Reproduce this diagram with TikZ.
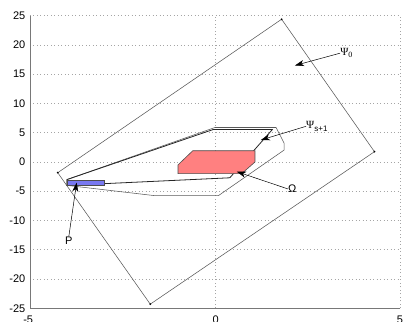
\documentclass[tikz,border=0pt]{standalone}
\usepackage{fontspec}
\setmainfont{Liberation Sans}
\newfontfamily\symfont{Liberation Serif}
\usetikzlibrary{arrows.meta}
\definecolor{omegared}{RGB}{255,128,128}
\definecolor{pblue}{RGB}{120,120,240}
\definecolor{gridgray}{RGB}{165,165,165}
\definecolor{axisgray}{RGB}{120,120,120}
\tikzset{
  gridline/.style={gridgray, line width=0.6pt, dash pattern=on 1pt off 2.5pt},
  axisline/.style={axisgray, line width=0.8pt},
  ticklabel/.style={font=\fontsize{11}{11}\selectfont, inner sep=0pt},
  polyline/.style={black!65, line width=0.55pt},
  innerpoly/.style={black!85, line width=0.8pt},
  annot/.style={black, line width=0.5pt, -{Stealth[length=9pt,width=6pt,inset=2.5pt]}},
  vertexdot/.style={fill=black, circle, inner sep=0pt, minimum size=2pt},
  lbl/.style={inner sep=0pt, font=\fontsize{11}{11}\selectfont}
}
\begin{document}
\begin{tikzpicture}[x=37pt,y=5.85pt]
\useasboundingbox (-5.8108,-27.350) rectangle (5.0811,27.692);
\clip (-5.8108,-27.350) rectangle (5.0811,27.692);
% grid
\foreach \yy in {-20,-15,...,25} \draw[gridline] (-5,\yy) -- (5,\yy);
\draw[gridline] (0,-25) -- (0,25);
\draw[gridline] (5,-25) -- (5,25);
% axes
\draw[axisline] (-5,25) -- (-5,-25) -- (5,-25);
\foreach \yy in {-25,-20,...,25} \node[ticklabel, anchor=east] (yt\yy) at (-5.12,\yy) {\yy};
\node[ticklabel, anchor=north] (xtm5) at (-5.05,-26.3) {-5};
\node[ticklabel, anchor=north] (xt0) at (0.02,-26.3) {0};
\node[ticklabel, anchor=north] (xt5) at (5,-26.3) {5};
% Psi_0
\coordinate (q1) at (1.80,24.4);
\coordinate (q2) at (4.31,1.76);
\coordinate (q3) at (-1.75,-24.3);
\coordinate (q4) at (-4.25,-1.83);
\draw[polyline] (q1) -- (q2) -- (q3) -- (q4) -- cycle;
\foreach \q in {q1,q2,q3,q4} \node[vertexdot] at (\q) {};
% Psi_{s+1} outer
\draw[polyline] (-4,-3) -- (0,5.9) -- (1.65,5.9) -- (1.87,3.2) -- (1.87,2.05) -- (0.09,-5.76) -- (-1.62,-5.76) -- (-4,-4) -- cycle;
% inner polygon
\draw[innerpoly] (-4,-3) -- (-0.05,5.55) -- (1.55,5.55) -- (0.4,-2.7) -- (-4,-4) -- cycle;
% Omega
\draw[fill=omegared, draw=black!70, line width=0.6pt] (-1,-2) -- (0.72,-2) -- (1.08,0) -- (1.08,1.93) -- (-0.6,1.93) -- (-1,-0.5) -- cycle;
% P
\draw[fill=pblue, draw=black!70, line width=0.6pt] (-4,-4) rectangle (-3,-3.05);
% annotations
\coordinate (tpsi0) at (2.16,16.5);
\coordinate (tpsis) at (1.24,3.76);
\coordinate (tomega) at (0.59,-1.66);
\coordinate (tp) at (-3.74,-3.53);
\node[lbl, anchor=west] (lpsi0) at (3.38,18.6) {{\symfont Ψ}\raisebox{-2pt}{\fontsize{8}{8}\selectfont\symfont 0}};
\node[lbl, anchor=west] (lpsis) at (2.46,6.1) {{\symfont Ψ}\raisebox{-3pt}{\fontsize{8}{8}\selectfont s+1}};
\node[lbl, anchor=west] (lomega) at (1.97,-4.6) {Ω};
\node[lbl, anchor=north] (lp) at (-3.95,-12.7) {P};
\draw[annot] (lpsi0.west) -- (tpsi0);
\draw[annot] (lpsis.west) -- (tpsis);
\draw[annot] (lomega.west) -- (tomega);
\draw[annot] (lp.north) -- (tp);
\end{tikzpicture}
\end{document}
